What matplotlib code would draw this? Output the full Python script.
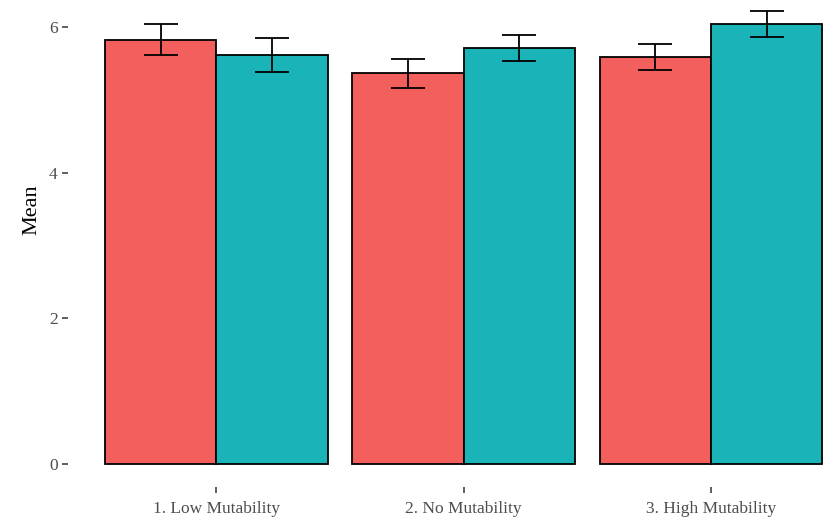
import numpy as np
import matplotlib.pyplot as plt

# values
groups = ["1. Low Mutability", "2. No Mutability", "3. High Mutability"]
red_mean = [5.82, 5.37, 5.59]
red_lo = [5.62, 5.16, 5.41]
red_hi = [6.04, 5.56, 5.77]
teal_mean = [5.62, 5.71, 6.04]
teal_lo = [5.38, 5.53, 5.86]
teal_hi = [5.85, 5.89, 6.22]
yticks = [0, 2, 4, 6]

plt.rcParams['font.family'] = ['Liberation Serif', 'DejaVu Serif']

fig = plt.figure(figsize=(8.27, 5.18), dpi=100)
ax = fig.add_axes([68 / 827, 1 - 487 / 518, (827 - 68) / 827, 487 / 518])

x = np.arange(1, len(groups) + 1)
w = 0.45
red = np.array(red_mean)
teal = np.array(teal_mean)
ax.bar(x - w / 2, red, w, color='#F25F5C', edgecolor='black', linewidth=1.3)
ax.bar(x + w / 2, teal, w, color='#1AB3B8', edgecolor='black', linewidth=1.3)
ax.errorbar(x - w / 2, red, yerr=[red - np.array(red_lo), np.array(red_hi) - red],
            fmt='none', ecolor='black', elinewidth=1.3, capsize=12, capthick=1.3)
ax.errorbar(x + w / 2, teal, yerr=[teal - np.array(teal_lo), np.array(teal_hi) - teal],
            fmt='none', ecolor='black', elinewidth=1.3, capsize=12, capthick=1.3)

ax.set_xlim(0.4, 1 + (827 - 216) / 247.5)
ax.set_ylim(-23 / 72.8, 464 / 72.8)
ax.set_xticks(x)
ax.set_xticklabels(groups)
ax.set_yticks(yticks)
for s in ax.spines.values():
    s.set_visible(False)
ax.tick_params(axis='both', colors='#333333', labelcolor='#4D4D4D', labelsize=12.5,
               length=4, width=1.1)
ax.tick_params(axis='x', pad=6)
ax.set_ylabel('Mean', fontsize=16)
ax.yaxis.set_label_coords(-0.035, 0.569)

fig.savefig('out.png', dpi=100)
